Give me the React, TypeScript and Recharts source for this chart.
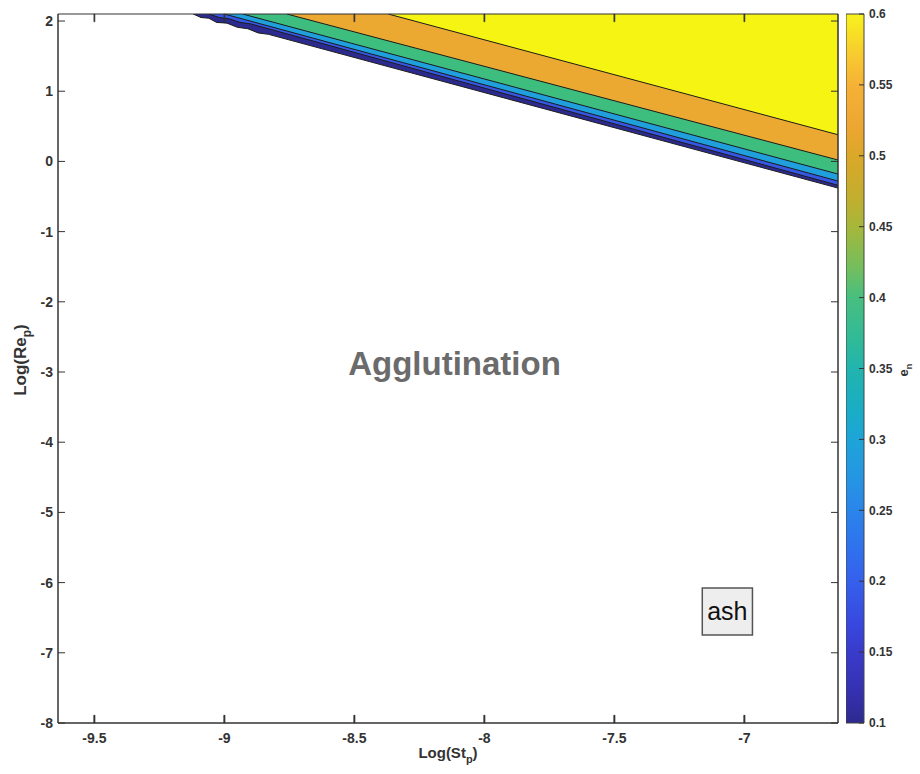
import React from 'react';
import { ComposedChart, Area, XAxis, YAxis, ReferenceArea, ReferenceDot, Label } from 'recharts';

const FONT = '"Liberation Sans", Arial, Helvetica, sans-serif';

// axis ticks
const xTicks = [-9.5, -9, -8.5, -8, -7.5, -7];
const yTicks = [-8, -7, -6, -5, -4, -3, -2, -1, 0, 1, 2];
const cbTicks = [0.1, 0.15, 0.2, 0.25, 0.3, 0.35, 0.4, 0.45, 0.5, 0.55, 0.6];

// lower boundary of each contour region (Log(St_p), Log(Re_p))
const darkEdge = [
  { x: -9.12, y: 2.1 }, { x: -9.09, y: 2.05 }, { x: -9.06, y: 2.04 }, { x: -9.03, y: 1.98 },
  { x: -8.99, y: 1.97 }, { x: -8.95, y: 1.91 }, { x: -8.91, y: 1.89 }, { x: -8.87, y: 1.83 },
  { x: -8.83, y: 1.81 }, { x: -6.64, y: -0.38 },
];
const blueEdge = [
  { x: -9.06, y: 2.1 }, { x: -9.02, y: 2.05 }, { x: -8.98, y: 2.03 }, { x: -8.94, y: 1.98 },
  { x: -8.9, y: 1.96 }, { x: -6.64, y: -0.34 },
];
const cyanEdge = [{ x: -9.0, y: 2.1 }, { x: -6.64, y: -0.28 }];
const greenEdge = [{ x: -8.93, y: 2.1 }, { x: -6.64, y: -0.18 }];
const orangeEdge = [{ x: -8.76, y: 2.1 }, { x: -6.64, y: 0.02 }];
const yellowEdge = [{ x: -8.37, y: 2.1 }, { x: -6.64, y: 0.38 }];

const regionColors = ['#2c2a8e', '#3656e4', '#1f9fdc', '#3dbd7e', '#eca932', '#f6f412'];
const regionEdges = [darkEdge, blueEdge, cyanEdge, greenEdge, orangeEdge, yellowEdge];

// colorbar: full value range and colormap stops (value, colour)
const cbRange = [{ x: 0, y: 0.6 }, { x: 1, y: 0.6 }];
const cbStops: [number, string][] = [
  [0.6, '#f8f21c'], [0.57, '#f8c930'], [0.55, '#f5b236'], [0.52, '#eca632'],
  [0.5, '#dba829'], [0.47, '#c2ae2f'], [0.45, '#a6b73a'], [0.42, '#72be5f'],
  [0.4, '#47bf80'], [0.37, '#30ba98'], [0.35, '#22b4ae'], [0.32, '#19adc6'],
  [0.3, '#1ea4d8'], [0.27, '#2594e4'], [0.25, '#2a85ea'], [0.22, '#306fee'],
  [0.2, '#3560ec'], [0.17, '#3848de'], [0.15, '#393bcb'], [0.12, '#3430ae'],
  [0.1, '#2e2a8e'],
];

const tickStyle = { fontFamily: FONT, fontSize: 14, fontWeight: 700, fill: '#333' };

const NoTick = () => <g />;

const XLabel = (props: any) => {
  const vb = props.viewBox || {};
  return (
    <text x={vb.x + vb.width / 2} y={vb.y + 35} textAnchor="middle" fontFamily={FONT} fontSize={15} fontWeight={700} fill="#333">
      Log(St<tspan fontSize={11} dy={5}>p</tspan><tspan dy={-5}>)</tspan>
    </text>
  );
};

const YLabel = () => {
  const cx = 26;
  const cy = 360;
  return (
    <text x={cx} y={cy} transform={`rotate(-90, ${cx}, ${cy})`} textAnchor="middle" fontFamily={FONT} fontSize={17} fontWeight={700} fill="#333">
      Log(Re<tspan fontSize={12} dy={5}>p</tspan><tspan dy={-5}>)</tspan>
    </text>
  );
};

const EnLabel = (props: any) => {
  const vb = props.viewBox || {};
  const cx = vb.x + 44;
  const cy = 370;
  return (
    <text x={cx} y={cy} transform={`rotate(-90, ${cx}, ${cy})`} textAnchor="middle" fontFamily={FONT} fontSize={13} fontWeight={700} fill="#333">
      e<tspan fontSize={9} dy={4}>n</tspan>
    </text>
  );
};

export default function App() {
  return (
    <div style={{ position: 'absolute', left: 0, top: 0, width: 920, height: 774, background: '#fff' }}>
      <div style={{ position: 'absolute', left: 0, top: 0 }}>
        <ComposedChart width={920} height={774} margin={{ top: 14, right: 81, bottom: 0, left: 0 }}>
          <XAxis
            type="number" dataKey="x" domain={[-9.64, -6.64]} allowDataOverflow ticks={xTicks}
            height={51} tickSize={-8} tickMargin={18} tick={tickStyle}
            axisLine={{ stroke: '#333' }} tickLine={{ stroke: '#333', strokeWidth: 1.4 }}
            label={<Label content={XLabel} />}
          />
          <YAxis
            type="number" domain={[-8, 2.1]} allowDataOverflow ticks={yTicks} width={58}
            tickSize={-7} tickMargin={12} tick={tickStyle}
            axisLine={{ stroke: '#333' }} tickLine={{ stroke: '#333' }}
            label={<Label content={YLabel} />}
          />
          <YAxis
            yAxisId="right" orientation="right" type="number" domain={[-8, 2.1]} allowDataOverflow ticks={yTicks}
            width={1} tickSize={-7} tick={NoTick}
            axisLine={{ stroke: '#333' }} tickLine={{ stroke: '#333' }}
          />
          {regionEdges.map((edge, i) => (
            <Area
              key={i}
              data={edge}
              dataKey="y"
              type="linear"
              baseValue={2.1}
              fill={regionColors[i]}
              fillOpacity={1}
              stroke="#1c1c1c"
              strokeWidth={1}
              dot={false}
              activeDot={false}
              isAnimationActive={false}
            />
          ))}
          {xTicks.map((t) => (
            <ReferenceArea
              key={`top${t}`} x1={t - 0.002} x2={t + 0.002} y1={1.99} y2={2.1}
              ifOverflow="visible" fill="#333" fillOpacity={1} stroke="#333" strokeWidth={0.6}
            />
          ))}
          {xTicks.map((t) => (
            <ReferenceArea
              key={`bot${t}`} x1={t - 0.002} x2={t + 0.002} y1={-8} y2={-7.89}
              ifOverflow="visible" fill="#333" fillOpacity={1} stroke="#333" strokeWidth={0.6}
            />
          ))}
          <ReferenceArea
            x1={-9.64} x2={-6.64} y1={-8} y2={2.1} ifOverflow="visible"
            fill="none" stroke="#333" strokeWidth={1}
          />
          <ReferenceDot
            x={-8.115} y={-2.875} r={0} stroke="none" fill="none"
            label={{ value: 'Agglutination', position: 'center', fontFamily: FONT, fontSize: 33, fontWeight: 700, fill: '#6b6b6b' }}
          />
          <ReferenceArea
            x1={-7.162} x2={-6.969} y1={-6.747} y2={-6.078}
            fill="#eeeeee" fillOpacity={1} stroke="#555" strokeWidth={1.5}
            label={{ value: 'ash', position: 'center', fontFamily: FONT, fontSize: 25, fill: '#111' }}
          />
        </ComposedChart>
      </div>
      <div style={{ position: 'absolute', left: 846, top: 0 }}>
        <ComposedChart width={74} height={774} margin={{ top: 14, right: 0, bottom: 51, left: 0 }}>
          <defs>
            <linearGradient id="cbGrad" x1="0" y1="0" x2="0" y2="1">
              {cbStops.map(([v, c], i) => (
                <stop key={i} offset={`${((0.6 - v) / 0.5) * 100}%`} stopColor={c} />
              ))}
            </linearGradient>
          </defs>
          <XAxis type="number" dataKey="x" domain={[0, 1]} hide allowDataOverflow />
          <YAxis
            orientation="right" type="number" domain={[0.1, 0.6]} allowDataOverflow ticks={cbTicks} width={56}
            tickSize={-5} tickMargin={10}
            tick={{ fontFamily: FONT, fontSize: 12, fontWeight: 700, fill: '#333' }}
            axisLine={false} tickLine={{ stroke: '#333' }}
            label={<Label content={EnLabel} />}
          />
          <Area
            data={cbRange} dataKey="y" type="linear" baseValue={0.1}
            fill="url(#cbGrad)" fillOpacity={1} stroke="none"
            dot={false} activeDot={false} isAnimationActive={false}
          />
          <ReferenceArea x1={0} x2={1} y1={0.1} y2={0.6} ifOverflow="visible" fill="none" stroke="#444" strokeWidth={1} />
        </ComposedChart>
      </div>
    </div>
  );
}
